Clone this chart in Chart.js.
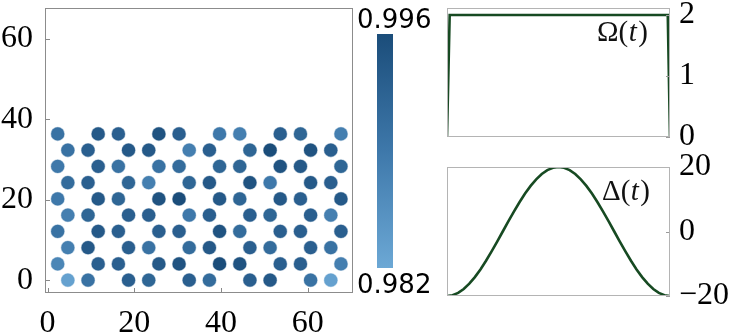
<!DOCTYPE html>
<html><head><meta charset="utf-8">
<script src="https://cdn.jsdelivr.net/npm/chart.js@4"></script>
<style>
html,body{margin:0;padding:0;background:#fff;overflow:hidden;width:746px;height:332px}
.box{position:absolute}
</style></head><body>
<div class="box" style="left:0;top:0"><canvas id="c1" width="440" height="332"></canvas></div>
<div class="box" style="left:440px;top:0"><canvas id="c2" width="306" height="160"></canvas></div>
<div class="box" style="left:440px;top:140px"><canvas id="c3" width="306" height="192"></canvas></div>
<script>
// ---------- data ----------
const colA = [4.67, 9.33, 18.67, 23.33, 32.67, 37.33, 46.67, 51.33, 60.67, 65.33];
const colB = [2.33, 11.67, 16.33, 25.67, 30.33, 39.67, 44.33, 53.67, 58.33, 67.67];
const rowY = [0, 4.04, 8.08, 12.12, 16.17, 20.21, 24.25, 28.29, 32.33, 36.37];
const rowPattern = ['A','B','A','B','A','B','A','B','A','B'];
const atomValues = [
  [0.983, 0.990, 0.993, 0.992, 0.993, 0.991, 0.993, 0.994, 0.990, 0.983],
  [0.987, 0.993, 0.993, 0.994, 0.995, 0.996, 0.995, 0.993, 0.993, 0.988],
  [0.988, 0.994, 0.993, 0.990, 0.991, 0.994, 0.993, 0.991, 0.993, 0.990],
  [0.990, 0.994, 0.993, 0.993, 0.993, 0.995, 0.991, 0.993, 0.993, 0.993],
  [0.988, 0.992, 0.993, 0.993, 0.989, 0.993, 0.993, 0.992, 0.993, 0.988],
  [0.989, 0.994, 0.992, 0.995, 0.996, 0.994, 0.992, 0.994, 0.993, 0.994],
  [0.991, 0.993, 0.992, 0.988, 0.992, 0.994, 0.995, 0.989, 0.994, 0.993],
  [0.989, 0.993, 0.990, 0.990, 0.991, 0.992, 0.992, 0.995, 0.994, 0.992],
  [0.990, 0.993, 0.994, 0.994, 0.988, 0.993, 0.992, 0.996, 0.995, 0.993],
  [0.990, 0.994, 0.993, 0.995, 0.993, 0.989, 0.988, 0.993, 0.992, 0.988]
];
const cbarMin = 0.982, cbarMax = 0.996;
const cbarLabels = ['0.996', '0.982'];
const xTicksLeft = [0, 20, 40, 60];
const yTicksLeft = [0, 20, 40, 60];

const tOmega = [0, 0.012, 0.99, 1];
const omega = [0, 2, 2, 0];
const omegaTicks = [0, 1, 2];

const tDelta = [0,0.025,0.05,0.075,0.1,0.125,0.15,0.175,0.2,0.225,0.25,0.275,0.3,0.325,0.35,0.375,0.4,0.425,0.45,0.475,0.5,
  0.525,0.55,0.575,0.6,0.625,0.65,0.675,0.7,0.725,0.75,0.775,0.8,0.825,0.85,0.875,0.9,0.925,0.95,0.975,1];
const delta = [-20,-19.75,-19.02,-17.82,-16.18,-14.14,-11.76,-9.08,-6.18,-3.13,0,3.13,6.18,9.08,11.76,14.14,16.18,17.82,19.02,19.75,20,
  19.75,19.02,17.82,16.18,14.14,11.76,9.08,6.18,3.13,0,-3.13,-6.18,-9.08,-11.76,-14.14,-16.18,-17.82,-19.02,-19.75,-20];
const deltaTicks = [-20, 0, 20];

// ---------- helpers ----------
const stops = [[0, [108,168,213]], [0.5, [62,120,170]], [1, [27,77,122]]];
function cmap(v){
  let f = (v - cbarMin) / (cbarMax - cbarMin); f = Math.max(0, Math.min(1, f));
  let i = f <= 0.5 ? 0 : 1;
  const [f0,c0] = stops[i], [f1,c1] = stops[i+1];
  const u = (f - f0) / (f1 - f0);
  const c = c0.map((x,k)=>Math.round(x + (c1[k]-x)*u));
  return `rgb(${c[0]},${c[1]},${c[2]})`;
}
function cmapA(v, a){ return cmap(v).replace('rgb','rgba').replace(')', ','+a+')'); }

const points = [], pcol = [], pborder = [];
rowY.forEach((y, r) => {
  const cols = rowPattern[r] === 'A' ? colA : colB;
  cols.forEach((x, c) => {
    points.push({x, y});
    pcol.push(cmap(atomValues[r][c]));
    pborder.push(cmapA(atomValues[r][c], 0.35));
  });
});

const serif = '"Liberation Serif", "DejaVu Serif", serif';
const tickFont = {family: serif, size: 32, lineHeight: 1};
const minusFmt = v => String(v).replace('-', '\u2212');

const frameTicks = {
  id: 'frameTicks',
  afterDatasetsDraw(chart, args, o){
    const ctx = chart.ctx, a = chart.chartArea;
    ctx.save();
    ctx.lineWidth = 1;
    ctx.strokeStyle = o.tickColor;
    (o.axes || []).forEach(id => {
      const s = chart.scales[id];
      s.ticks.forEach(t => {
        const p = Math.round(s.getPixelForValue(t.value)) + 0.5;
        ctx.beginPath();
        if (s.isHorizontal()) { ctx.moveTo(p, a.bottom); ctx.lineTo(p, a.bottom - o.len); }
        else if (s.position === 'left') { ctx.moveTo(a.left, p); ctx.lineTo(a.left + o.len, p); }
        else { ctx.moveTo(a.right, p); ctx.lineTo(a.right - o.len, p); }
        ctx.stroke();
      });
    });
    ctx.strokeStyle = o.frame;
    ctx.strokeRect(Math.round(a.left) + 0.5, Math.round(a.top) + 0.5, Math.round(a.width) - 1, Math.round(a.height) - 1);
    if (o.label) {
      ctx.fillStyle = '#111';
      let x = o.label.x;
      o.label.parts.forEach(([txt, italic]) => {
        ctx.font = (italic ? 'italic ' : '') + o.label.size + 'px ' + serif;
        ctx.textBaseline = 'alphabetic'; ctx.textAlign = 'left';
        ctx.fillText(txt, x, o.label.y);
        x += ctx.measureText(txt).width + (italic ? 1.5 : 0.5);
      });
    }
    ctx.restore();
  }
};

const colorbar = {
  id: 'colorbar',
  afterDraw(chart, args, o){
    const ctx = chart.ctx;
    ctx.save();
    const g = ctx.createLinearGradient(0, o.y0, 0, o.y1);
    g.addColorStop(0, cmap(cbarMax));
    g.addColorStop(0.5, cmap((cbarMax + cbarMin) / 2));
    g.addColorStop(1, cmap(cbarMin));
    ctx.fillStyle = g;
    ctx.fillRect(o.x0, o.y0, o.x1 - o.x0, o.y1 - o.y0);
    ctx.fillStyle = '#000';
    ctx.font = '26px "DejaVu Sans", sans-serif';
    ctx.textAlign = 'left'; ctx.textBaseline = 'alphabetic';
    ctx.fillText(cbarLabels[0], o.lx, o.topBase);
    ctx.fillText(cbarLabels[1], o.lx, o.botBase);
    ctx.restore();
  }
};

function fixTicks(arr){ return s => { s.ticks = arr.map(v => ({value: v})); }; }
function fitW(w){ return s => { s.width = w; s.paddingTop = 0; s.paddingBottom = 0; }; }
function fitH(h){ return s => { s.height = h; s.paddingLeft = 0; s.paddingRight = 0; }; }

// ---------- chart 1 : atoms ----------
new Chart(document.getElementById('c1'), {
  type: 'scatter',
  data: { datasets: [{ data: points, pointRadius: 6.6, pointHoverRadius: 6.6,
    pointBackgroundColor: pcol, pointBorderColor: pborder, pointBorderWidth: 1.2 }] },
  options: {
    responsive: false, animation: false,
    layout: { padding: { left: 0, right: 87, top: 8, bottom: 0 } },
    plugins: { legend: {display: false}, tooltip: {enabled: false},
      frameTicks: { axes: ['x','y'], len: 5, tickColor: '#888', frame: '#8c8c8c' },
      colorbar: { x0: 377, x1: 393, y0: 34, y1: 268, lx: 357, topBase: 28, botBase: 293 } },
    scales: {
      x: { type: 'linear', min: -0.6, max: 70.45,
        grid: {display: false, drawTicks: false}, border: {display: false},
        ticks: { font: tickFont, color: '#000', padding: 15, maxRotation: 0, callback: minusFmt },
        afterBuildTicks: fixTicks(xTicksLeft), afterFit: fitH(39) },
      y: { type: 'linear', min: -3.2, max: 67.7,
        grid: {display: false, drawTicks: false}, border: {display: false},
        ticks: { font: tickFont, color: '#000', padding: 12, callback: minusFmt },
        afterBuildTicks: fixTicks(yTicksLeft), afterFit: fitW(45) }
    }
  },
  plugins: [frameTicks, colorbar]
});

// ---------- charts 2/3 : Omega, Delta ----------
function lineChart(id, xs, ys, ymin, ymax, ticks, pad, label){
  return new Chart(document.getElementById(id), {
    type: 'line',
    data: { datasets: [{ data: xs.map((x,i)=>({x, y: ys[i]})), borderColor: '#174a22', borderWidth: 2.6,
      pointRadius: 0, tension: 0, fill: false }] },
    options: {
      responsive: false, animation: false,
      layout: { padding: pad },
      plugins: { legend: {display: false}, tooltip: {enabled: false},
        frameTicks: { axes: ['y'], len: 4, tickColor: '#999', frame: '#b4b4b4', label } },
      scales: {
        x: { type: 'linear', min: 0, max: 1, display: false },
        y: { type: 'linear', position: 'right', min: ymin, max: ymax,
          grid: {display: false, drawTicks: false}, border: {display: false},
          ticks: { font: tickFont, color: '#000', padding: 9, callback: minusFmt },
          afterBuildTicks: fixTicks(ticks), afterFit: fitW(76) }
      }
    },
    plugins: [frameTicks]
  });
}
lineChart('c2', tOmega, omega, 0, 2.115, omegaTicks, {left: 7, right: 0, top: 8, bottom: 23},
  {x: 157, y: 41, size: 29, parts: [['Ω(', false], ['t', true], [')', false]]});
lineChart('c3', tDelta, delta, -20, 20, deltaTicks, {left: 7, right: 0, top: 27, bottom: 36},
  {x: 162, y: 60, size: 29, parts: [['Δ(', false], ['t', true], [')', false]]});
</script>
</body></html>
